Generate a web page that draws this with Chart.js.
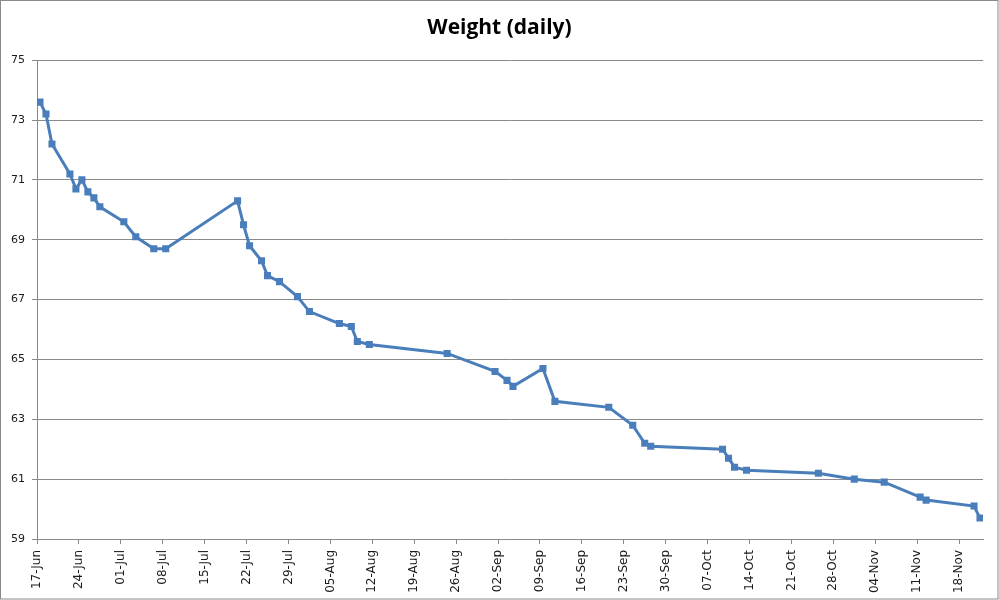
<!DOCTYPE html>
<html>
<head>
<meta charset="utf-8">
<script src="https://cdn.jsdelivr.net/npm/chart.js@4.4.0/dist/chart.umd.min.js"></script>
<style>
  html, body { margin: 0; padding: 0; background: #ffffff; }
  #wrap { width: 999px; height: 600px; }
</style>
</head>
<body>
<div id="wrap"><canvas id="c" width="999" height="600"></canvas></div>
<script>
// ---- data ----
const startDate = '2013-06-17';
const endDate = '2013-11-22';
const dates = [
  '2013-06-17','2013-06-18','2013-06-19','2013-06-22','2013-06-23','2013-06-24','2013-06-25','2013-06-26','2013-06-27',
  '2013-07-01','2013-07-03','2013-07-06','2013-07-08','2013-07-20','2013-07-21','2013-07-22','2013-07-24','2013-07-25',
  '2013-07-27','2013-07-30','2013-08-01','2013-08-06','2013-08-08','2013-08-09','2013-08-11','2013-08-24',
  '2013-09-01','2013-09-03','2013-09-04','2013-09-09','2013-09-11','2013-09-20','2013-09-24','2013-09-26','2013-09-27',
  '2013-10-09','2013-10-10','2013-10-11','2013-10-13','2013-10-25','2013-10-31','2013-11-05','2013-11-11','2013-11-12',
  '2013-11-20','2013-11-21'
];
const weights = [
  73.6, 73.2, 72.2, 71.2, 70.7, 71.0, 70.6, 70.4, 70.1,
  69.6, 69.1, 68.7, 68.7, 70.3, 69.5, 68.8, 68.3, 67.8,
  67.6, 67.1, 66.6, 66.2, 66.1, 65.6, 65.5, 65.2,
  64.6, 64.3, 64.1, 64.7, 63.6, 63.4, 62.8, 62.2, 62.1,
  62.0, 61.7, 61.4, 61.3, 61.2, 61.0, 60.9, 60.4, 60.3,
  60.1, 59.7
];
const tickLabels = [
  '17-Jun','24-Jun','01-Jul','08-Jul','15-Jul','22-Jul','29-Jul','05-Aug','12-Aug','19-Aug','26-Aug',
  '02-Sep','09-Sep','16-Sep','23-Sep','30-Sep','07-Oct','14-Oct','21-Oct','28-Oct','04-Nov','11-Nov','18-Nov'
];
const yTicks = [59, 61, 63, 65, 67, 69, 71, 73, 75];
const titleText = 'Weight (daily)';

// ---- helpers ----
const DAY = 86400000;
function dayIndex(s) {
  const p = s.split('-').map(Number);
  const q = startDate.split('-').map(Number);
  return Math.round((Date.UTC(p[0], p[1] - 1, p[2]) - Date.UTC(q[0], q[1] - 1, q[2])) / DAY);
}
const points = dates.map((d, i) => ({ x: dayIndex(d), y: weights[i] }));
const totalDays = dayIndex(endDate);

const GRID = '#8a8a8a';
const LINE = '#4a7ebb';

const borderPlugin = {
  id: 'outerBorder',
  afterDraw(chart) {
    const ctx = chart.ctx;
    ctx.save();
    ctx.strokeStyle = '#8a8a8a';
    ctx.lineWidth = 1;
    ctx.strokeRect(0.5, 0.5, chart.width - 1.5, chart.height - 1.5);
    ctx.restore();
  }
};

new Chart(document.getElementById('c'), {
  type: 'line',
  data: {
    datasets: [{
      label: 'Weight',
      data: points,
      borderColor: LINE,
      backgroundColor: LINE,
      borderWidth: 3,
      pointStyle: 'rect',
      pointRadius: 5,
      pointBorderWidth: 0,
      pointBackgroundColor: LINE,
      pointBorderColor: LINE,
      tension: 0,
      fill: false
    }]
  },
  options: {
    responsive: false,
    devicePixelRatio: 1,
    animation: false,
    layout: { padding: { left: 0, right: 0, top: 0, bottom: 0 } },
    plugins: {
      legend: { display: false },
      tooltip: { enabled: false },
      title: {
        display: true,
        text: titleText,
        color: '#000000',
        font: { family: 'Open Sans', size: 21, weight: 'bold', lineHeight: 1.2 },
        padding: { top: 15, bottom: 20 }
      }
    },
    scales: {
      x: {
        type: 'linear',
        min: -0.5,
        max: totalDays - 0.5,
        afterBuildTicks(scale) {
          scale.ticks = tickLabels.map((l, i) => ({ value: i * 7 - 0.5 }));
        },
        afterFit(scale) { scale.height = 61; },
        grid: {
          display: true,
          drawOnChartArea: false,
          drawTicks: true,
          tickLength: 5,
          color: GRID
        },
        border: { display: true, color: GRID, width: 1 },
        ticks: {
          autoSkip: false,
          maxRotation: 90,
          minRotation: 90,
          padding: 6,
          color: '#1a1a1a',
          font: { family: 'DejaVu Sans', size: 12 },
          callback(value, index) { return tickLabels[index]; }
        }
      },
      y: {
        min: 59,
        max: 75,
        afterBuildTicks(scale) {
          scale.ticks = yTicks.map(v => ({ value: v }));
        },
        afterFit(scale) { scale.width = 37; },
        grid: {
          color: GRID,
          lineWidth: 1,
          drawTicks: true,
          tickLength: 5
        },
        border: { display: true, color: GRID, width: 1 },
        ticks: {
          padding: 7,
          color: '#1a1a1a',
          font: { family: 'DejaVu Sans', size: 11 },
          callback(value) { return String(value); }
        }
      },
      rightSpace: {
        type: 'linear',
        position: 'right',
        min: 0,
        max: 1,
        afterFit(scale) { scale.width = 16; },
        grid: { display: false, drawTicks: false },
        border: { display: false },
        ticks: { display: false }
      }
    }
  },
  plugins: [borderPlugin]
});
</script>
</body>
</html>
